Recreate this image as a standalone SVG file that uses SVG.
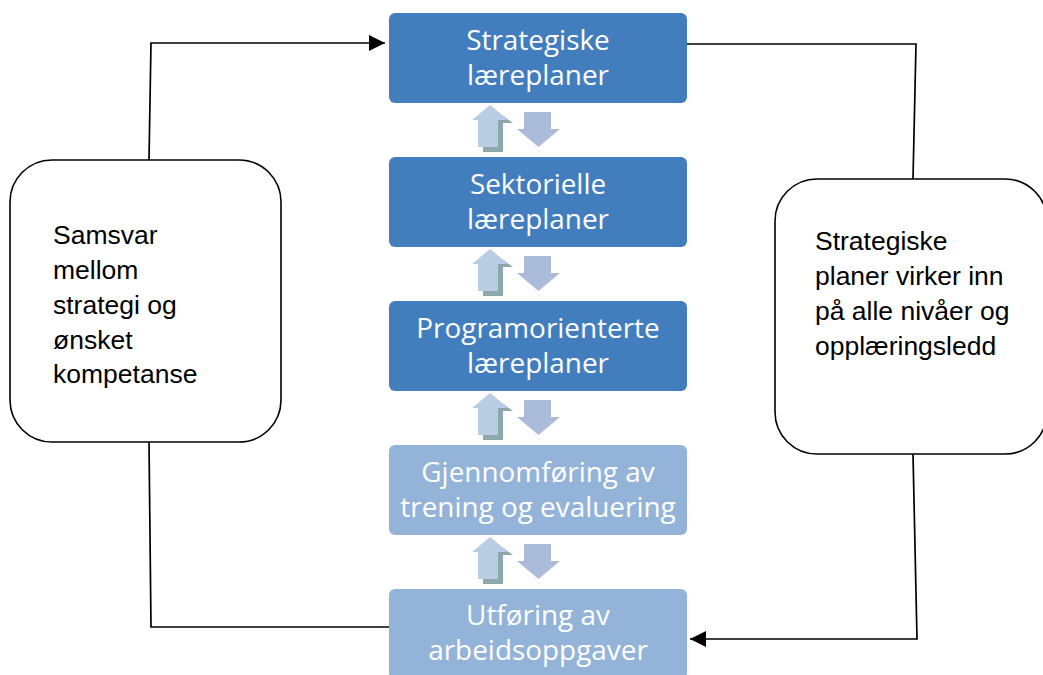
<svg xmlns="http://www.w3.org/2000/svg" xmlns:xlink="http://www.w3.org/1999/xlink" width="1043" height="675" viewBox="0 0 1043 675">
<style>
.dark{fill:#427DBE;}
.light{fill:#94B3D9;}
.bt{font-family:"Open Sans","Noto Sans",sans-serif;font-size:27.9px;fill:#FFFFFF;text-anchor:middle;}
.note{fill:#FFFFFF;stroke:#000000;stroke-width:1.6;}
.nt{font-family:"Liberation Sans",Arial,sans-serif;font-size:26.5px;fill:#000000;}
.conn{fill:none;stroke:#000000;stroke-width:1.7;}
</style>
<defs>
<marker id="ah" markerUnits="userSpaceOnUse" markerWidth="18" markerHeight="16" refX="16" refY="8" orient="auto">
<path d="M0,0 L16,8 L0,16 Z" fill="#000000"/>
</marker>
<g id="pair">
<path d="M495,123 L513,123 L495,110 Z M483,123 L503,123 L503,152 L483,152 Z" fill="#8DA8AB"/>
<path d="M490,105 L508,120 L498,120 L498,147 L478,147 L478,120 L472,120 Z" fill="#B9CDE5"/>
<path d="M524,112 L551,112 L551,129 L560,129 L538.5,147 L517,129 L524,129 Z" fill="#ABBBDA"/>
</g>
</defs>
<g id="connectors">
<path class="conn" d="M149,160 L151,43 L385,43" marker-end="url(#ah)"/>
<path class="conn" d="M687,44 L916,44 L913,179"/>
<path class="conn" d="M913,454 L917,639 L690,639" marker-end="url(#ah)"/>
<path class="conn" d="M149,442 L151,627 L389,627"/>
</g>
<g id="updown-arrows">
<use xlink:href="#pair"/>
<use xlink:href="#pair" transform="translate(0,144)"/>
<use xlink:href="#pair" transform="translate(0,288)"/>
<use xlink:href="#pair" transform="translate(0,432)"/>
</g>
<g id="n1">
<rect class="dark" x="389" y="13" width="298" height="90" rx="6"/>
<text class="bt" x="538" y="50">Strategiske</text>
<text class="bt" x="538" y="85">læreplaner</text>
</g>
<g id="n2">
<rect class="dark" x="389" y="157" width="298" height="90" rx="6"/>
<text class="bt" x="538" y="194">Sektorielle</text>
<text class="bt" x="538" y="229">læreplaner</text>
</g>
<g id="n3">
<rect class="dark" x="389" y="301" width="298" height="90" rx="6"/>
<text class="bt" x="538" y="338">Programorienterte</text>
<text class="bt" x="538" y="373">læreplaner</text>
</g>
<g id="n4">
<rect class="light" x="389" y="445" width="298" height="90" rx="6"/>
<text class="bt" x="538" y="482">Gjennomføring av</text>
<text class="bt" x="538" y="517">trening og evaluering</text>
</g>
<g id="n5">
<rect class="light" x="389" y="589" width="298" height="90" rx="6"/>
<text class="bt" x="538" y="625">Utføring av</text>
<text class="bt" x="538" y="660">arbeidsoppgaver</text>
</g>
<g id="note-left">
<rect class="note" x="10" y="160" width="271" height="282" rx="42"/>
<text class="nt" x="53" y="244">Samsvar</text>
<text class="nt" x="53" y="279">mellom</text>
<text class="nt" x="53" y="314">strategi og</text>
<text class="nt" x="53" y="349">ønsket</text>
<text class="nt" x="53" y="383">kompetanse</text>
</g>
<g id="note-right">
<rect class="note" x="775" y="179" width="272" height="275" rx="42"/>
<text class="nt" x="815" y="250">Strategiske</text>
<text class="nt" x="815" y="285">planer virker inn</text>
<text class="nt" x="815" y="320">på alle nivåer og</text>
<text class="nt" x="815" y="355">opplæringsledd</text>
</g>
</svg>
